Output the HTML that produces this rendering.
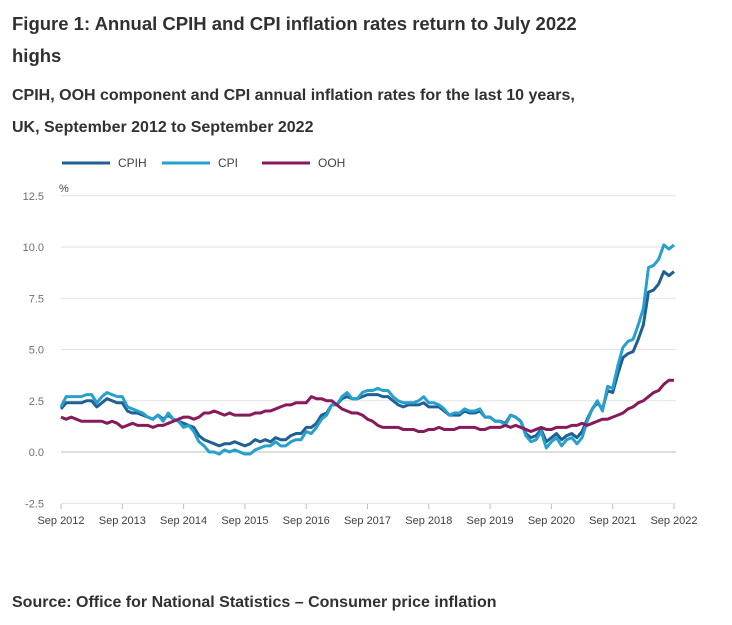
<!DOCTYPE html>
<html><head><meta charset="utf-8"><style>
body{margin:0;background:#fff;font-family:"Liberation Sans",sans-serif;color:#323132;width:732px;height:625px;overflow:hidden;position:relative}
.t{position:absolute;left:12px;font-weight:bold;margin:0}
</style></head><body>
<h1 class="t" style="top:8px;font-size:18.5px;line-height:32px">Figure 1: Annual CPIH and CPI inflation rates return to July 2022<br>highs</h1>
<h2 class="t" style="top:80px;font-size:16px;line-height:32px">CPIH, OOH component and CPI annual inflation rates for the last 10 years,<br>UK, September 2012 to September 2022</h2>
<svg id="c" width="732" height="625" style="position:absolute;left:0;top:0" font-family="Liberation Sans, sans-serif"></svg>
<div class="t" style="top:594px;font-size:16px">Source: Office for National Statistics – Consumer price inflation</div>
<script>
const xLabels=["Sep 2012","Sep 2013","Sep 2014","Sep 2015","Sep 2016","Sep 2017","Sep 2018","Sep 2019","Sep 2020","Sep 2021","Sep 2022"];
const yTicks=[-2.5,0,2.5,5,7.5,10,12.5];
const yTickLabels=["-2.5","0.0","2.5","5.0","7.5","10.0","12.5"];
const seriesNames=["CPIH","CPI","OOH"];
const cpih=[2.1,2.4,2.4,2.4,
2.4,2.5,2.5,2.2,2.4,2.6,2.5,2.4,2.4,2.0,1.9,1.9,
1.8,1.7,1.6,1.8,1.6,1.8,1.6,1.5,1.4,1.3,1.2,0.8,
0.6,0.5,0.4,0.3,0.4,0.4,0.5,0.4,0.3,0.4,0.6,0.5,
0.6,0.5,0.7,0.6,0.6,0.8,0.9,0.9,1.2,1.2,1.4,1.8,
1.9,2.3,2.3,2.6,2.7,2.6,2.6,2.7,2.8,2.8,2.8,2.7,
2.7,2.5,2.3,2.2,2.3,2.3,2.3,2.4,2.2,2.2,2.2,2.0,
1.8,1.8,1.8,2.0,1.9,1.9,2.0,1.7,1.7,1.5,1.5,1.4,
1.8,1.7,1.5,0.9,0.7,0.8,1.1,0.5,0.7,0.9,0.6,0.8,
0.9,0.7,1.0,1.6,2.1,2.4,2.1,3.0,2.9,3.8,4.6,4.8,
4.9,5.5,6.2,7.8,7.9,8.2,8.8,8.6,8.8];
const cpi=[2.2,2.7,2.7,2.7,
2.7,2.8,2.8,2.4,2.7,2.9,2.8,2.7,2.7,2.2,2.1,2.0,
1.9,1.7,1.6,1.8,1.5,1.9,1.6,1.5,1.2,1.3,1.0,0.5,
0.3,0.0,0.0,-0.1,0.1,0.0,0.1,0.0,-0.1,-0.1,0.1,0.2,
0.3,0.3,0.5,0.3,0.3,0.5,0.6,0.6,1.0,0.9,1.2,1.6,
1.8,2.3,2.3,2.7,2.9,2.6,2.6,2.9,3.0,3.0,3.1,3.0,
3.0,2.7,2.5,2.4,2.4,2.4,2.5,2.7,2.4,2.4,2.3,2.1,
1.8,1.9,1.9,2.1,2.0,2.0,2.1,1.7,1.7,1.5,1.5,1.3,
1.8,1.7,1.5,0.8,0.5,0.6,1.0,0.2,0.5,0.7,0.3,0.6,
0.7,0.4,0.7,1.5,2.1,2.5,2.0,3.2,3.1,4.2,5.1,5.4,
5.5,6.2,7.0,9.0,9.1,9.4,10.1,9.9,10.1];
const ooh=[1.7,1.6,1.7,1.6,
1.5,1.5,1.5,1.5,1.5,1.4,1.5,1.4,1.2,1.3,1.4,1.3,
1.3,1.3,1.2,1.3,1.3,1.4,1.5,1.6,1.7,1.7,1.6,1.7,
1.9,1.9,2.0,1.9,1.8,1.9,1.8,1.8,1.8,1.8,1.9,1.9,
2.0,2.0,2.1,2.2,2.3,2.3,2.4,2.4,2.4,2.7,2.6,2.6,
2.5,2.5,2.3,2.1,2.0,1.9,1.9,1.8,1.6,1.5,1.3,1.2,
1.2,1.2,1.2,1.1,1.1,1.1,1.0,1.0,1.1,1.1,1.2,1.1,
1.1,1.1,1.2,1.2,1.2,1.2,1.1,1.1,1.2,1.2,1.2,1.3,
1.2,1.3,1.2,1.1,1.0,1.1,1.2,1.1,1.1,1.2,1.2,1.2,
1.3,1.3,1.4,1.3,1.4,1.5,1.6,1.6,1.7,1.8,1.9,2.1,
2.2,2.4,2.5,2.7,2.9,3.0,3.3,3.5,3.5];
const colors=["#206095","#27a0cc","#871a5b"];
const svg=document.getElementById('c');const NS="http://www.w3.org/2000/svg";
const X0=61,X1=674,Y0=452,PX=20.5;
const n=cpih.length;
const x=i=>X0+(X1-X0)*i/(n-1);
const y=v=>Y0-v*PX;
function mk(t,a){const e=document.createElementNS(NS,t);for(const k in a)e.setAttribute(k,a[k]);svg.appendChild(e);return e;}
yTicks.forEach((v,i)=>{
 const g=mk('line',{x1:X0,x2:676,y1:y(v),y2:y(v),stroke:v===0?'#bdbdbd':'#e2e2e2','stroke-width':1});
 
 
 const t=mk('text',{x:44,y:y(v)+4,'text-anchor':'end','font-size':11,fill:'#707071'});t.textContent=yTickLabels[i];
 
 
});
const u=mk('text',{x:59,y:192,'font-size':11,fill:'#414042'});u.textContent='%';


xLabels.forEach((l,i)=>{
 const xx=x(i*12);
 const tk=mk('line',{x1:xx,x2:xx,y1:504,y2:509,stroke:'#bdbdbd'});
 
 
 const t=mk('text',{x:xx,y:524,'text-anchor':'middle','font-size':11,fill:'#414042'});t.textContent=l;
 
 
});
[cpih,cpi,ooh].forEach((s,k)=>{
 const p=mk('polyline',{points:s.map((v,i)=>x(i)+','+y(v)).join(' '),fill:'none',stroke:colors[k],'stroke-width':3,'stroke-linejoin':'round'});
 
 
});
const lx=[62,162,262];
seriesNames.forEach((nm,k)=>{
 const l=mk('line',{x1:lx[k],x2:lx[k]+48,y1:163,y2:163,stroke:colors[k],'stroke-width':3});
 
 
 const t=mk('text',{x:lx[k]+56,y:167,'font-size':12,fill:'#414042'});t.textContent=nm;
 
 
});
</script>
</body></html>
